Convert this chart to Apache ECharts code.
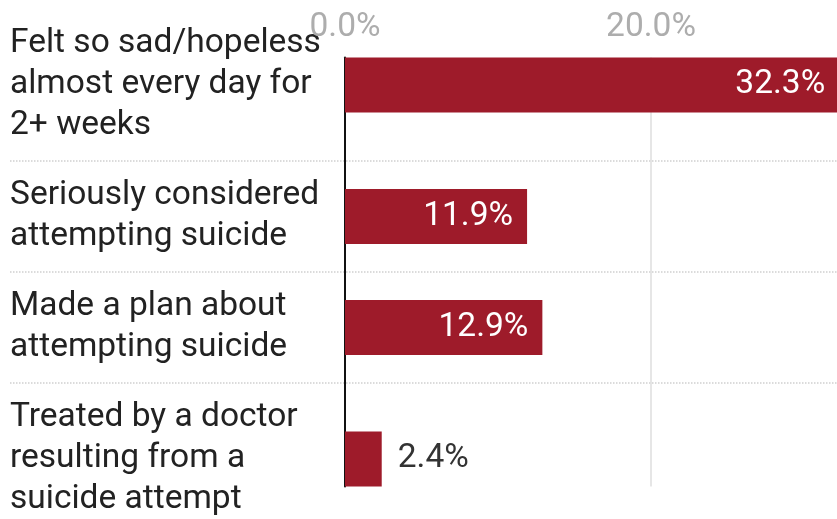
<!DOCTYPE html>
<html>
<head>
<meta charset="utf-8">
<script src="https://cdn.jsdelivr.net/npm/echarts@6/dist/echarts.min.js"></script>
<style>
  html, body { margin: 0; padding: 0; background: #ffffff; }
  #chart { width: 837px; height: 519px; }
</style>
</head>
<body>
<div id="chart"></div>
<script>
// Survey indicators and their shares (percent)
const categories = [
  'Felt so sad/hopeless\nalmost every day for\n2+ weeks',
  'Seriously considered\nattempting suicide',
  'Made a plan about\nattempting suicide',
  'Treated by a doctor\nresulting from a\nsuicide attempt'
];
const values = [32.3, 11.9, 12.9, 2.4];
const axisTicks = [0, 20];
const axisMax = 40;

// Layout settings
const FONT = 'Roboto, "Noto Sans", sans-serif';
const FONT_SIZE = 33.5;
const LINE_H = 41;
const ROW_PAD = 14.5;
const BAR_H = 55;
const PLOT_LEFT = 345;
const PX_PER_UNIT = 15.3;
const FIRST_ROW_TOP = 9;
const LABEL_LEFT = 10;
const BAR_COLOR = '#9e1b2a';
const OUTSIDE_LIMIT = 5;

// Each row is as tall as its label block plus padding
const rows = [];
let cursor = FIRST_ROW_TOP;
categories.forEach(function (c) {
  const lines = c.split('\n').length;
  const h = lines * LINE_H + 2 * ROW_PAD;
  rows.push({ top: cursor, height: h });
  cursor += h;
});

const plotWidth = axisMax * PX_PER_UNIT;
const firstRow = rows[0];
const lastRow = rows[rows.length - 1];
const frameTop = firstRow.top + firstRow.height / 2 - BAR_H / 2;
const frameBottom = lastRow.top + lastRow.height / 2 + BAR_H / 2;
const frameIndex = rows.length;

const grid = rows.map(function (r) {
  return { left: PLOT_LEFT, top: r.top, width: plotWidth, height: r.height, outerBoundsMode: 'none', containLabel: false };
});
grid.push({ left: PLOT_LEFT, top: frameTop, width: plotWidth, height: frameBottom - frameTop, outerBoundsMode: 'none', containLabel: false });

const xAxis = rows.map(function (r, i) {
  return { type: 'value', gridIndex: i, min: 0, max: axisMax, show: false };
});
xAxis.push({
  type: 'value',
  gridIndex: frameIndex,
  position: 'top',
  min: axisTicks[0],
  max: axisMax,
  interval: axisTicks[1] - axisTicks[0],
  axisLine: { show: false },
  axisTick: { show: false },
  splitLine: { show: true, lineStyle: { color: '#dedede', width: 1.5 } },
  axisLabel: {
    margin: 13,
    color: '#adadad',
    fontFamily: FONT,
    fontSize: FONT_SIZE,
    formatter: function (v) { return v.toFixed(1) + '%'; }
  }
});

const yAxis = rows.map(function (r, i) {
  return {
    type: 'category',
    gridIndex: i,
    data: [categories[i]],
    axisLine: { show: false },
    axisTick: { show: false },
    splitLine: { show: false },
    axisLabel: {
      align: 'left',
      margin: PLOT_LEFT - LABEL_LEFT,
      color: '#222222',
      fontFamily: FONT,
      fontSize: FONT_SIZE,
      lineHeight: LINE_H
    }
  };
});
yAxis.push({
  type: 'value',
  gridIndex: frameIndex,
  axisLabel: { show: false },
  axisTick: { show: false },
  splitLine: { show: false },
  axisLine: { show: true, onZero: false, lineStyle: { color: '#111111', width: 2 } }
});

const series = values.map(function (v, i) {
  const inside = v >= OUTSIDE_LIMIT;
  return {
    type: 'bar',
    xAxisIndex: i,
    yAxisIndex: i,
    barWidth: BAR_H,
    data: [v],
    itemStyle: { color: BAR_COLOR },
    label: {
      show: true,
      position: inside ? 'insideRight' : 'right',
      distance: inside ? 14 : 16,
      color: inside ? '#ffffff' : '#333333',
      fontFamily: FONT,
      fontSize: FONT_SIZE,
      formatter: function (p) { return p.value.toFixed(1) + '%'; }
    }
  };
});

// Dotted separators between rows, across labels and plot
const graphic = rows.slice(1).map(function (r) {
  return {
    type: 'line',
    shape: { x1: LABEL_LEFT, y1: r.top, x2: 837, y2: r.top },
    style: { stroke: '#cfcfcf', lineWidth: 1.5, lineDash: [1.5, 1.5] },
    silent: true
  };
});

const chart = echarts.init(document.getElementById('chart'), null, { renderer: 'canvas' });
chart.setOption({
  animation: false,
  backgroundColor: '#ffffff',
  textStyle: { fontFamily: FONT },
  grid: grid,
  xAxis: xAxis,
  yAxis: yAxis,
  series: series,
  graphic: graphic
});
</script>
</body>
</html>
